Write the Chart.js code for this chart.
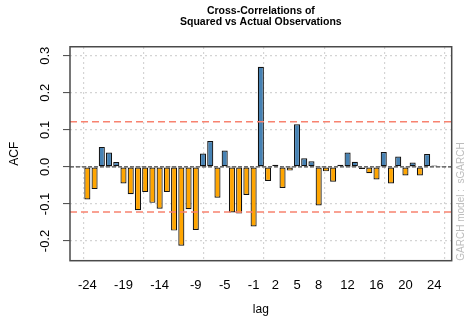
<!DOCTYPE html>
<html>
<head>
<meta charset="utf-8">
<script src="https://cdn.jsdelivr.net/npm/chart.js@4.4.1/dist/chart.umd.min.js"></script>
<style>
    html, body { margin: 0; padding: 0; background: #fff; }
    #wrap { width: 472px; height: 330px; }
</style>
</head>
<body>
<div id="wrap"><canvas id="ccfChart" width="472" height="330"></canvas></div>
<script>
// Lags shown on the chart
const lags = [-24, -23, -22, -21, -20, -19, -18, -17, -16, -15, -14, -13, -12, -11, -10, -9,
    -8, -7, -6, -5, -4, -3, -2, -1, 0, 1, 2, 3, 4, 5, 6, 7, 8, 9,
    10, 11, 12, 13, 14, 15, 16, 17, 18, 19, 20, 21, 22, 23, 24];

// Cross-correlation values
const ccfValues = [-0.088, -0.060, 0.054, 0.039, 0.013, -0.045, -0.074, -0.117, -0.068, -0.097, -0.113, -0.068, -0.172, -0.213, -0.114, -0.170,
    0.036, 0.070, -0.083, 0.044, -0.123, -0.126, -0.076, -0.161,
    0.270,
    -0.038, 0.006, -0.057, -0.010, 0.115, 0.023, 0.015, -0.104, -0.012,
    -0.040, 0.006, 0.039, 0.014, -0.006, -0.017, -0.034, 0.040, -0.045, 0.028, -0.023, 0.012, -0.023, 0.035, 0.004];

// Axis ticks
const xTickLags = [-24, -19, -14, -9, -5, -1, 2, 5, 8, 12, 16, 20, 24];
const xGridLags = [-24.583, -16.25, -7.917, 0.417, 8.75, 17.083, 25.417];
const yTicks = [-0.2, -0.1, 0.0, 0.1, 0.2, 0.3];
const confLimit = 0.122;

const FONT = "'Liberation Sans', Arial, Helvetica, sans-serif";

// Reference lines, box and side note
const overlayPlugin = {
    id: 'overlay',
    afterDraw(chart) {
        const { ctx, chartArea, scales } = chart;
        const y = scales.y;
        ctx.save();

        // confidence limits
        ctx.strokeStyle = '#f8826f';
        ctx.lineWidth = 1.5;
        ctx.setLineDash([7, 4]);
        [confLimit, -confLimit].forEach(v => {
            const py = y.getPixelForValue(v);
            ctx.beginPath();
            ctx.moveTo(chartArea.left, py);
            ctx.lineTo(chartArea.right, py);
            ctx.stroke();
        });

        // zero line
        ctx.strokeStyle = '#444';
        ctx.lineWidth = 1.4;
        ctx.setLineDash([4, 2]);
        const p0 = y.getPixelForValue(0);
        ctx.beginPath();
        ctx.moveTo(chartArea.left, p0);
        ctx.lineTo(chartArea.right, p0);
        ctx.stroke();

        // plot box
        ctx.setLineDash([]);
        ctx.strokeStyle = '#4a4a4a';
        ctx.lineWidth = 1.5;
        ctx.strokeRect(chartArea.left, chartArea.top, chartArea.right - chartArea.left, chartArea.bottom - chartArea.top);

        // side note
        ctx.translate(chartArea.right + 10, chartArea.bottom);
        ctx.rotate(-Math.PI / 2);
        ctx.fillStyle = '#bdbdbd';
        ctx.font = '10px ' + FONT;
        ctx.textAlign = 'left';
        ctx.textBaseline = 'middle';
        ctx.fillText('GARCH model :  sGARCH', 0, 0);
        ctx.restore();
    }
};

const ctx = document.getElementById('ccfChart').getContext('2d');
const ccfChart = new Chart(ctx, {
    type: 'bar',
    data: {
        datasets: [{
            label: 'CCF',
            data: lags.map((lag, i) => ({ x: lag, y: ccfValues[i] })),
            backgroundColor: c => (c.raw && c.raw.y >= 0) ? '#4682b4' : '#ffa500',
            borderColor: '#111',
            borderWidth: 1.2,
            borderSkipped: false,
            barPercentage: 0.84,
            categoryPercentage: 1.0
        }]
    },
    options: {
        responsive: false,
        animation: false,
        layout: { padding: { left: 0, right: 20.3, top: 0, bottom: 0 } },
        plugins: {
            legend: { display: false },
            tooltip: { enabled: false },
            title: {
                display: true,
                fullSize: false,
                text: ['Cross-Correlations of', 'Squared vs Actual Observations'],
                color: '#000',
                font: { family: FONT, size: 10.5, weight: 'bold', lineHeight: 1.05 },
                padding: { top: 5.5, bottom: 19.2 }
            }
        },
        scales: {
            x: {
                type: 'linear',
                min: -26.4,
                max: 26.4,
                offset: false,
                grid: { display: false, offset: false, drawTicks: false },
                border: { display: false },
                afterBuildTicks: scale => { scale.ticks = xTickLags.map(v => ({ value: v })); },
                afterFit: scale => { scale.height = 69.3; },
                ticks: {
                    autoSkip: false,
                    maxRotation: 0,
                    padding: 16.5,
                    color: '#000',
                    font: { family: FONT, size: 13 },
                    callback: v => String(v)
                },
                title: {
                    display: true,
                    text: 'lag',
                    color: '#000',
                    font: { family: FONT, size: 12 },
                    padding: { top: 0, bottom: 12.8 }
                }
            },
            xg: {
                type: 'linear',
                axis: 'x',
                position: 'top',
                min: -26.4,
                max: 26.4,
                offset: false,
                z: 1,
                grid: { display: true, offset: false, drawTicks: false, color: '#d4d4d4', lineWidth: 1.2 },
                border: { display: false, dash: [2, 3] },
                afterBuildTicks: scale => { scale.ticks = xGridLags.map(v => ({ value: v })); },
                afterFit: scale => { scale.height = 0; },
                ticks: { display: false }
            },
            y: {
                type: 'linear',
                min: -0.2532,
                max: 0.3243,
                z: 1,
                afterBuildTicks: scale => { scale.ticks = yTicks.map(v => ({ value: v })); },
                afterFit: scale => { scale.width = 70; },
                grid: {
                    color: '#d4d4d4',
                    lineWidth: 1.2,
                    drawTicks: true,
                    tickLength: 7,
                    tickColor: '#444',
                    tickWidth: 1,
                    tickBorderDash: []
                },
                border: { display: false, dash: [2, 3] },
                ticks: {
                    minRotation: 90,
                    maxRotation: 90,
                    crossAlign: 'center',
                    padding: 6.8,
                    color: '#000',
                    font: { family: FONT, size: 13 },
                    callback: v => Number(v).toFixed(1)
                },
                title: {
                    display: true,
                    text: 'ACF',
                    color: '#000',
                    font: { family: FONT, size: 12 },
                    padding: { top: 7.8, bottom: 0 }
                }
            }
        }
    },
    plugins: [overlayPlugin]
});
</script>
</body>
</html>
